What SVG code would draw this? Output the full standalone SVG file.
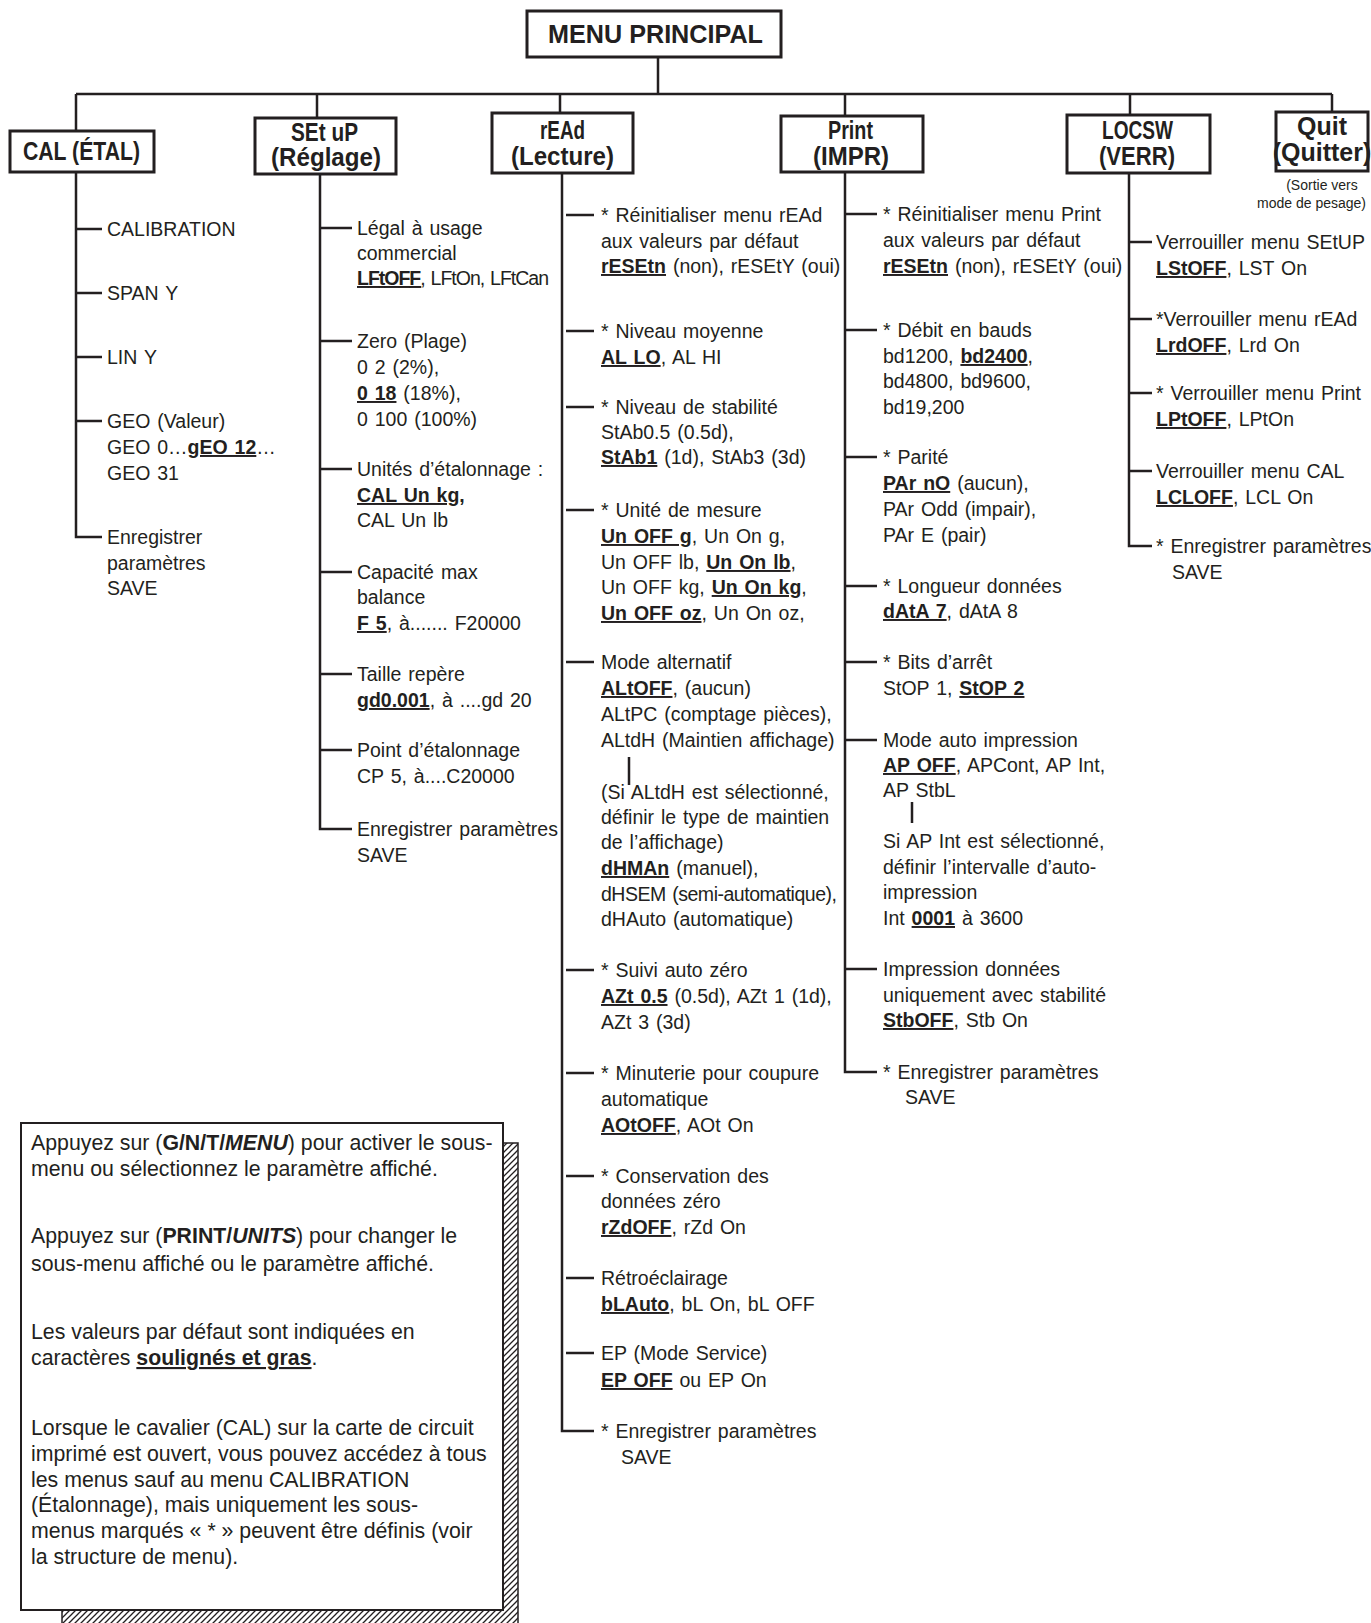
<svg xmlns="http://www.w3.org/2000/svg" width="1371" height="1623" viewBox="0 0 1371 1623">
<style>
.t{font-family:"Liberation Sans",Arial,sans-serif;font-size:19.5px;fill:#231f20;word-spacing:1.5px}
.n{font-family:"Liberation Sans",Arial,sans-serif;font-size:21.3px;fill:#231f20}
.s{font-family:"Liberation Sans",Arial,sans-serif;font-size:14px;fill:#231f20}
.u{font-weight:bold;text-decoration:underline}
.bo{font-weight:bold}
.bi{font-weight:bold;font-style:italic}
.h{font-family:"Liberation Sans",Arial,sans-serif;font-size:25px;font-weight:bold;fill:#231f20}
.box{fill:#fff;stroke:#231f20;stroke-width:3}
.ln{fill:none;stroke:#231f20;stroke-width:2.5}
.bar{fill:none;stroke:#231f20;stroke-width:2.5}
</style>
<defs>
<pattern id="hatch" patternUnits="userSpaceOnUse" width="6" height="6">
<rect width="6" height="6" fill="#fff"/>
<path d="M-1,7 L7,-1 M-1,1 L1,-1 M5,7 L7,5" stroke="#231f20" stroke-width="1.3"/>
</pattern>
</defs>

<g id="connectors">
<path class="ln" d="M658,57 V94 M76,94 H1332 M76,94 V131 M317,94 V118 M560,94 V113 M845,94 V116 M1130,94 V115 M1332,94 V112"/>
<path class="ln" d="M76,172 V537 H102 M76,229 H102 M76,293 H102 M76,357 H102 M76,421 H102"/>
<path class="ln" d="M320,174 V829 H352 M320,228 H352 M320,341 H352 M320,469 H352 M320,572 H352 M320,674 H352 M320,750 H352"/>
<path class="ln" d="M562,173 V1431 H594 M566,215 H594 M566,331 H594 M566,407 H594 M566,510 H594 M566,662 H594 M566,970 H594 M566,1073 H594 M566,1176 H594 M566,1278 H594 M566,1353 H594"/>
<path class="ln" d="M845,172 V1072 H877 M845,214 H877 M845,330 H877 M845,457 H877 M845,586 H877 M845,662 H877 M845,740 H877 M845,969 H877"/>
<path class="ln" d="M1129,173 V546 H1152 M1129,242 H1152 M1129,319 H1152 M1129,393 H1152 M1129,471 H1152"/>
<path class="bar" d="M629,757 V785 M912,802 V823"/>
</g>

<g id="menu-principal">
<rect class="box" x="527" y="11" width="254" height="46"/>
<text class="h" x="548" y="43" font-size="27" textLength="215" lengthAdjust="spacingAndGlyphs">MENU PRINCIPAL</text>
</g>
<g id="cal">
<rect class="box" x="10" y="131" width="144" height="41"/>
<text class="h" x="23" y="160" textLength="117" lengthAdjust="spacingAndGlyphs">CAL (ÉTAL)</text>
</g>
<g id="setup">
<rect class="box" x="255" y="118" width="141" height="56"/>
<text class="h" x="291" y="141" textLength="67" lengthAdjust="spacingAndGlyphs">SEt uP</text>
<text class="h" x="271" y="166" textLength="110" lengthAdjust="spacingAndGlyphs">(Réglage)</text>
</g>
<g id="read">
<rect class="box" x="492" y="113" width="141" height="60"/>
<text class="h" x="540" y="139" textLength="45" lengthAdjust="spacingAndGlyphs">rEAd</text>
<text class="h" x="511" y="165" textLength="103" lengthAdjust="spacingAndGlyphs">(Lecture)</text>
</g>
<g id="print">
<rect class="box" x="781" y="116" width="142" height="56"/>
<text class="h" x="828" y="139" textLength="45" lengthAdjust="spacingAndGlyphs">Print</text>
<text class="h" x="813" y="165" textLength="76" lengthAdjust="spacingAndGlyphs">(IMPR)</text>
</g>
<g id="locsw">
<rect class="box" x="1067" y="115" width="143" height="58"/>
<text class="h" x="1102" y="139" textLength="71" lengthAdjust="spacingAndGlyphs">LOCSW</text>
<text class="h" x="1099" y="165" textLength="76" lengthAdjust="spacingAndGlyphs">(VERR)</text>
</g>
<g id="quit">
<rect class="box" x="1276" y="112" width="92" height="59"/>
<text class="h" x="1322" y="135" font-size="21" text-anchor="middle">Quit</text>
<text class="h" x="1322" y="161" font-size="20.5" text-anchor="middle">(Quitter)</text>
<text class="s" x="1322" y="190" text-anchor="middle">(Sortie vers</text>
<text class="s" x="1366" y="208" text-anchor="end">mode de pesage)</text>
</g>

<g id="cal-items" class="t">
<text x="107" y="236">CALIBRATION</text>
<text x="107" y="300">SPAN  Y</text>
<text x="107" y="364">LIN Y</text>
<text x="107" y="428">GEO  (Valeur)</text>
<text x="107" y="454">GEO  0…<tspan class="u">gEO 12</tspan>…</text>
<text x="107" y="480">GEO  31</text>
<text x="107" y="544">Enregistrer</text>
<text x="107" y="570">paramètres</text>
<text x="107" y="595">SAVE</text>
</g>

<g id="setup-items" class="t">
<text x="357" y="235">Légal à usage</text>
<text x="357" y="260">commercial</text>
<text x="357" y="285" textLength="192"><tspan class="u">LFtOFF</tspan>, LFtOn, LFtCan</text>
<text x="357" y="348">Zero (Plage)</text>
<text x="357" y="374">0 2 (2%),</text>
<text x="357" y="400"><tspan class="u">0 18</tspan> (18%),</text>
<text x="357" y="426">0 100 (100%)</text>
<text x="357" y="476">Unités d’étalonnage :</text>
<text x="357" y="502"><tspan class="u">CAL Un kg,</tspan></text>
<text x="357" y="527">CAL Un lb</text>
<text x="357" y="579">Capacité max</text>
<text x="357" y="604">balance</text>
<text x="357" y="630"><tspan class="u">F 5</tspan>, à....... F20000</text>
<text x="357" y="681">Taille repère</text>
<text x="357" y="707"><tspan class="u">gd0.001</tspan>, à ....gd 20</text>
<text x="357" y="757">Point d’étalonnage</text>
<text x="357" y="783">CP 5,  à....C20000</text>
<text x="357" y="836">Enregistrer paramètres</text>
<text x="357" y="862">SAVE</text>
</g>

<g id="read-items" class="t">
<text x="601" y="222">* Réinitialiser menu rEAd</text>
<text x="601" y="248">aux valeurs par défaut</text>
<text x="601" y="273"><tspan class="u">rESEtn</tspan> (non), rESEtY (oui)</text>
<text x="601" y="338">* Niveau moyenne</text>
<text x="601" y="364"><tspan class="u">AL LO</tspan>, AL HI</text>
<text x="601" y="414">* Niveau de stabilité</text>
<text x="601" y="439">StAb0.5 (0.5d),</text>
<text x="601" y="464"><tspan class="u">StAb1</tspan> (1d), StAb3 (3d)</text>
<text x="601" y="517">* Unité de mesure</text>
<text x="601" y="543"><tspan class="u">Un OFF g</tspan>, Un On g,</text>
<text x="601" y="569">Un OFF lb, <tspan class="u">Un On lb</tspan>,</text>
<text x="601" y="594">Un OFF kg, <tspan class="u">Un On kg</tspan>,</text>
<text x="601" y="620"><tspan class="u">Un OFF oz</tspan>, Un On oz,</text>
<text x="601" y="669">Mode alternatif</text>
<text x="601" y="695"><tspan class="u">ALtOFF</tspan>, (aucun)</text>
<text x="601" y="721">ALtPC (comptage pièces),</text>
<text x="601" y="747">ALtdH (Maintien affichage)</text>
<text x="601" y="799">(Si ALtdH est sélectionné,</text>
<text x="601" y="824">définir le type de maintien</text>
<text x="601" y="849">de l’affichage)</text>
<text x="601" y="875"><tspan class="u">dHMAn</tspan> (manuel),</text>
<text x="601" y="901" textLength="236">dHSEM (semi-automatique),</text>
<text x="601" y="926">dHAuto (automatique)</text>
<text x="601" y="977">* Suivi auto zéro</text>
<text x="601" y="1003"><tspan class="u">AZt 0.5</tspan> (0.5d), AZt 1 (1d),</text>
<text x="601" y="1029">AZt 3 (3d)</text>
<text x="601" y="1080">* Minuterie pour coupure</text>
<text x="601" y="1106">automatique</text>
<text x="601" y="1132"><tspan class="u">AOtOFF</tspan>, AOt On</text>
<text x="601" y="1183">* Conservation des</text>
<text x="601" y="1208">données zéro</text>
<text x="601" y="1234"><tspan class="u">rZdOFF</tspan>, rZd On</text>
<text x="601" y="1285">Rétroéclairage</text>
<text x="601" y="1311"><tspan class="u">bLAuto</tspan>, bL On, bL OFF</text>
<text x="601" y="1360">EP (Mode Service)</text>
<text x="601" y="1387"><tspan class="u">EP OFF</tspan> ou EP On</text>
<text x="601" y="1438">* Enregistrer paramètres</text>
<text x="621" y="1464">SAVE</text>
</g>

<g id="print-items" class="t">
<text x="883" y="221">* Réinitialiser menu Print</text>
<text x="883" y="247">aux valeurs par défaut</text>
<text x="883" y="273"><tspan class="u">rESEtn</tspan> (non), rESEtY (oui)</text>
<text x="883" y="337">* Débit en bauds</text>
<text x="883" y="363">bd1200, <tspan class="u">bd2400</tspan>,</text>
<text x="883" y="388">bd4800, bd9600,</text>
<text x="883" y="414">bd19,200</text>
<text x="883" y="464">* Parité</text>
<text x="883" y="490"><tspan class="u">PAr nO</tspan> (aucun),</text>
<text x="883" y="516">PAr Odd (impair),</text>
<text x="883" y="542">PAr E (pair)</text>
<text x="883" y="593">* Longueur données</text>
<text x="883" y="618"><tspan class="u">dAtA 7</tspan>, dAtA 8</text>
<text x="883" y="669">* Bits d’arrêt</text>
<text x="883" y="695">StOP 1, <tspan class="u">StOP 2</tspan></text>
<text x="883" y="747">Mode auto impression</text>
<text x="883" y="772"><tspan class="u">AP OFF</tspan>, APCont, AP Int,</text>
<text x="883" y="797">AP StbL</text>
<text x="883" y="848">Si AP Int est sélectionné,</text>
<text x="883" y="874">définir l’intervalle d’auto-</text>
<text x="883" y="899">impression</text>
<text x="883" y="925">Int <tspan class="u">0001</tspan> à 3600</text>
<text x="883" y="976">Impression données</text>
<text x="883" y="1002">uniquement avec stabilité</text>
<text x="883" y="1027"><tspan class="u">StbOFF</tspan>, Stb On</text>
<text x="883" y="1079">* Enregistrer paramètres</text>
<text x="905" y="1104">SAVE</text>
</g>

<g id="locsw-items" class="t">
<text x="1156" y="249">Verrouiller menu SEtUP</text>
<text x="1156" y="275"><tspan class="u">LStOFF</tspan>, LST On</text>
<text x="1156" y="326">*Verrouiller menu rEAd</text>
<text x="1156" y="352"><tspan class="u">LrdOFF</tspan>, Lrd On</text>
<text x="1156" y="400">* Verrouiller menu Print</text>
<text x="1156" y="426"><tspan class="u">LPtOFF</tspan>, LPtOn</text>
<text x="1156" y="478">Verrouiller menu CAL</text>
<text x="1156" y="504"><tspan class="u">LCLOFF</tspan>, LCL On</text>
<text x="1156" y="553">* Enregistrer paramètres</text>
<text x="1172" y="579">SAVE</text>
</g>

<g id="note">
<path d="M503,1143 H518 V1630 H62 V1610 H503 Z" fill="url(#hatch)" stroke="#231f20" stroke-width="1.5"/>
<rect x="21" y="1123" width="482" height="487" fill="#fff" stroke="#231f20" stroke-width="2"/>
<g class="n">
<text x="31" y="1150">Appuyez sur (<tspan class="bo">G/N/T/</tspan><tspan class="bi">MENU</tspan>) pour activer le sous-</text>
<text x="31" y="1176">menu ou sélectionnez le paramètre affiché.</text>
<text x="31" y="1243">Appuyez sur (<tspan class="bo">PRINT/</tspan><tspan class="bi">UNITS</tspan>) pour changer le</text>
<text x="31" y="1271">sous-menu affiché ou le paramètre affiché.</text>
<text x="31" y="1339">Les valeurs par défaut sont indiquées en</text>
<text x="31" y="1365">caractères <tspan class="u">soulignés et gras</tspan>.</text>
<text x="31" y="1435">Lorsque le cavalier (CAL) sur la carte de circuit</text>
<text x="31" y="1461">imprimé est ouvert, vous pouvez accédez à tous</text>
<text x="31" y="1487">les menus sauf au menu CALIBRATION</text>
<text x="31" y="1512">(Étalonnage), mais uniquement les sous-</text>
<text x="31" y="1538">menus marqués « * » peuvent être définis (voir</text>
<text x="31" y="1564">la structure de menu).</text>
</g>
</g>
</svg>
